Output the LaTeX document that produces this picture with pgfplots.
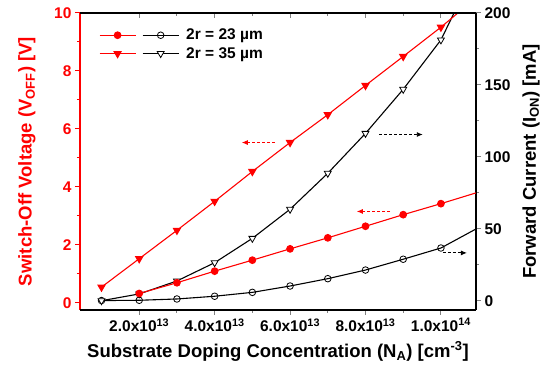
\documentclass[border=0pt]{standalone}
\usepackage{pgfplots}
\pgfplotsset{compat=1.18}
\usetikzlibrary{arrows.meta}
\usepackage{fontspec}
\setmainfont{Liberation Sans}
\newcommand{\tickfont}{\bfseries\fontsize{15.5}{18}\selectfont}
\newcommand{\labfont}{\bfseries\fontsize{18.5}{22}\selectfont}
\definecolor{pred}{RGB}{255,0,0}
\pgfplotsset{
  base/.style={scale only axis, width=396pt, height=297pt,
    xmin=0.43e13, xmax=10.93e13, scaled x ticks=false, scaled y ticks=false,
    /pgf/number format/assume math mode=true,
    tick label style={font=\tickfont},
    axis line style={line width=1.3pt},
    major tick length=5pt, minor tick length=3pt,
    tick style={line width=1pt},
    xtick={2e13,4e13,6e13,8e13,10e13}, minor x tick num=1,
    clip=true,
  },
}
\tikzset{annarrow/.style={line width=0.9pt, dash pattern=on 3pt off 2pt,
  -{Latex[length=6pt,width=5pt]}}}
\begin{document}
\begin{tikzpicture}
% ---- right axis (forward current), black ----
\begin{axis}[base, ymin=-6.25, ymax=200,
  axis y line*=right, axis x line=none, tick align=outside,
  ytick={0,50,100,150,200}, minor y tick num=1,
  ylabel={\labfont Forward Current (I\textsubscript{ON}) [mA]},
  ylabel style={at={(axis description cs:1.139,0.5)}, anchor=center},
]
\addplot[black, line width=1.1pt, mark=o, mark size=3.3pt,
  mark options={fill=white, line width=0.8pt}, mark indices={1,2,3,4,5,6,7,8,9,10}]
  coordinates {(1e13,0.3)(2e13,0.5)(3e13,1.4)(4e13,3.3)(5e13,6.0)(6e13,10.4)
  (7e13,15.5)(8e13,21.5)(9e13,29.0)(10e13,36.8)(11e13,51.0)};
\addplot[black, line width=1.1pt, mark=triangle*, mark size=4pt,
  mark options={fill=white, line width=0.8pt, rotate=180}, mark indices={1,2,3,4,5,6,7,8,9,10}]
  coordinates {(1e13,0.2)(2e13,4.9)(3e13,13.9)(4e13,26.6)(5e13,43.5)(6e13,63.7)
  (7e13,88.7)(8e13,116.4)(9e13,147.0)(10e13,181.3)(11e13,235.0)};
\draw[black, annarrow]
  (axis cs:8.36e13,115.6) -- (axis cs:9.52e13,115.6);
\draw[black, annarrow]
  (axis cs:10.05e13,33.4) -- (axis cs:10.69e13,33.4);
\end{axis}
% ---- left axis (switch-off voltage), red ----
\begin{axis}[base, name=main, ymin=-0.25, ymax=10,
  axis y line*=left, axis x line=none, tick align=outside,
  axis line style={pred, line width=1.3pt},
  tick style={pred, line width=1pt},
  yticklabel style={pred},
  ytick={0,2,4,6,8,10}, minor y tick num=1,
  ylabel={\color{pred}\labfont Switch-Off Voltage (V\textsubscript{OFF}) [V]},
  ylabel style={at={(axis description cs:-0.134,0.5)}, anchor=center},
  legend columns=2,
  legend style={draw=none, fill=none, font=\tickfont,
    at={(axis description cs:0.04,0.96)}, anchor=north west,
    column sep=1pt, row sep=2pt},
  legend image code/.code={\draw[mark repeat=2, mark phase=2]
    plot coordinates {(0pt,0pt) (18pt,0pt) (36pt,0pt)};},
]
\addlegendimage{pred, line width=1.1pt, mark=*, mark size=3.3pt, mark options={fill=pred}}
\addlegendentry{}
\addlegendimage{black, line width=1.1pt, mark=o, mark size=3.3pt, mark options={fill=white, line width=0.8pt}}
\addlegendentry{\hspace{4pt}2r = 23 µm}
\addlegendimage{pred, line width=1.1pt, mark=triangle*, mark size=4pt, mark options={fill=pred, rotate=180}}
\addlegendentry{}
\addlegendimage{black, line width=1.1pt, mark=triangle*, mark size=4pt, mark options={fill=white, line width=0.8pt, rotate=180}}
\addlegendentry{\hspace{4pt}2r = 35 µm}
\addplot[pred, line width=1.1pt, mark=*, mark size=3.3pt, mark options={fill=pred},
  mark indices={1,2,3,4,5,6,7,8,9}, forget plot]
  coordinates {(2e13,0.32)(3e13,0.69)(4e13,1.09)(5e13,1.47)(6e13,1.86)
  (7e13,2.24)(8e13,2.64)(9e13,3.04)(10e13,3.42)(11e13,3.82)};
\addplot[pred, line width=1.1pt, mark=triangle*, mark size=4pt, mark options={fill=pred, rotate=180},
  mark indices={1,2,3,4,5,6,7,8,9,10}, forget plot]
  coordinates {(1e13,0.54)(2e13,1.52)(3e13,2.50)(4e13,3.50)(5e13,4.53)(6e13,5.53)
  (7e13,6.49)(8e13,7.50)(9e13,8.50)(10e13,9.51)(11e13,10.60)};
\draw[pred, annarrow]
  (axis cs:5.60e13,5.53) -- (axis cs:4.72e13,5.53);
\draw[pred, annarrow]
  (axis cs:8.65e13,3.15) -- (axis cs:7.77e13,3.15);
\end{axis}
% ---- bottom x axis ----
\begin{axis}[base, ymin=0, ymax=1,
  axis x line*=bottom, axis y line=none, tick align=outside,
  xticklabels={2.0x10\textsuperscript{13}, 4.0x10\textsuperscript{13}, 6.0x10\textsuperscript{13}, 8.0x10\textsuperscript{13}, 1.0x10\textsuperscript{14}},
  xlabel={\labfont Substrate Doping Concentration (N\textsubscript{A}) [cm\textsuperscript{-3}]},
  xlabel style={at={(axis description cs:0.5,-0.14)}, anchor=center},
]
\end{axis}
% ---- top x axis (ticks inside) ----
\begin{axis}[base, ymin=0, ymax=1,
  axis x line*=top, axis y line=none, tick align=inside,
  xticklabels={},
]
\end{axis}
\path ([xshift=-80pt,yshift=-77pt]main.south west) rectangle ++(550pt,387pt);
\end{tikzpicture}
\end{document}
